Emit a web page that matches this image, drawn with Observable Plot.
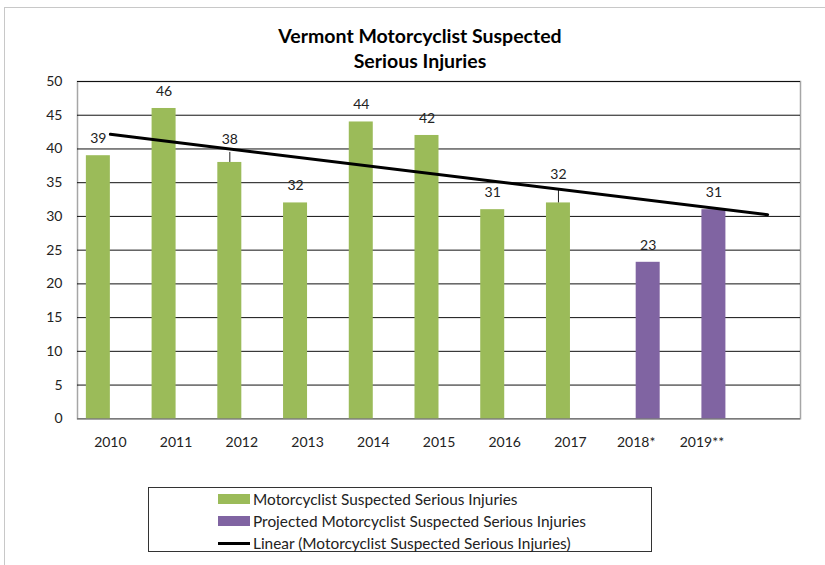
<!DOCTYPE html>
<html><head><meta charset="utf-8">
<script src="https://cdn.jsdelivr.net/npm/d3@7"></script>
<script src="https://cdn.jsdelivr.net/npm/@observablehq/plot@0.6"></script>
<style>
body{margin:0;background:#fff;}
#wrap{position:relative;width:825px;height:565px;overflow:hidden;font-family:Lato,sans-serif;}
#border{position:absolute;left:4px;top:7px;width:900px;height:700px;border-left:1.5px solid #c8c8c8;border-top:1.5px solid #c8c8c8;}
#title{position:absolute;left:170px;width:500px;top:23px;text-align:center;font-weight:bold;font-size:19.5px;line-height:25px;color:#000;}
#legend{position:absolute;left:148px;top:487px;width:502px;height:63px;border:1px solid #333;background:#fff;}
.row{position:absolute;left:69px;height:22px;display:flex;align-items:center;font-size:15.4px;color:#222;white-space:nowrap;}
.sw{width:32px;height:10px;margin-right:3px;}
#chart{position:absolute;left:0;top:0;}
</style></head><body>
<div id="wrap">
  <div id="border"></div>
  <div id="chart"></div>
  <div id="title">Vermont Motorcyclist Suspected<br>Serious Injuries</div>
  <div id="legend"></div>
</div>
<script>
// ---- data ----
const categories = ["2010","2011","2012","2013","2014","2015","2016","2017","2018*","2019**",""];
const actualYears = ["2010","2011","2012","2013","2014","2015","2016","2017"];
const actualValues = [39,46,38,32,44,42,31,32];
const projectedYears = ["2018*","2019**"];
const projectedValues = [23.2,31];
const yTicks = [0,5,10,15,20,25,30,35,40,45,50];
const raisedLabelYears = ["2012","2017"];
const seriesNames = ["Motorcyclist Suspected Serious Injuries","Projected Motorcyclist Suspected Serious Injuries","Linear (Motorcyclist Suspected Serious Injuries)"];

const GREEN = "#9BBB59", PURPLE = "#8064A2";

const actual = actualYears.map((year,i)=>({year, value: actualValues[i]}));
const projected = projectedYears.map((year,i)=>({year, value: projectedValues[i]}));

// linear trend (least squares on category index 1..n), extended over all categories
const xs = actualValues.map((_,i)=>i+1);
const mx = d3.mean(xs), my = d3.mean(actualValues);
const slope = d3.sum(xs.map((x,i)=>(x-mx)*(actualValues[i]-my))) / d3.sum(xs.map(x=>(x-mx)**2));
const intercept = my - slope*mx;
const trend = [categories[0], categories[categories.length-1]].map(c=>{
  const idx = categories.indexOf(c)+1;
  return {year:c, value: intercept + slope*idx};
});

const fmt = d3.format(".0f");
const normalLabels = actual.filter(d=>!raisedLabelYears.includes(d.year));
const lab2012 = actual.filter(d=>d.year===raisedLabelYears[0]);
const lab2017 = actual.filter(d=>d.year===raisedLabelYears[1]);

const bw = (825-77-25)/categories.length;
const off = bw/2 - 24;

const chart = Plot.plot({
  width: 825, height: 565,
  marginLeft: 77, marginRight: 25, marginTop: 81, marginBottom: 146.7,
  style: {fontFamily: "Lato, sans-serif", fontSize: "14px", color: "#222", background: "transparent"},
  x: {domain: categories, padding: 0, round: false, tickSize: 0, tickPadding: 18, label: null},
  y: {domain: [0,50], ticks: yTicks, tickSize: 0, tickPadding: 15, label: null},
  marks: [
    Plot.frame({stroke: "#a6a6a6", strokeWidth: 1.5}),
    Plot.ruleY(yTicks.filter(t=>t>0), {stroke: "#111", strokeWidth: 1}),
    Plot.ruleY([0], {stroke: "#7a7a7a", strokeWidth: 1.5}),
    Plot.barY(actual, {x: "year", y: "value", fill: GREEN, insetLeft: off, insetRight: bw/2}),
    Plot.barY(projected, {x: "year", y: "value", fill: PURPLE, insetLeft: bw/2, insetRight: off}),
    Plot.ruleX(lab2012, {x: "year", y1: "value", y2: "value", dx: -12, insetBottom: 10, stroke: "#222", strokeWidth: 1}),
    Plot.ruleX(lab2017, {x: "year", y1: "value", y2: "value", dx: -12, insetBottom: 13.3, stroke: "#222", strokeWidth: 1}),
    Plot.line(trend, {x: "year", y: "value", stroke: "#000", strokeWidth: 3}),
    Plot.text(normalLabels, {x: "year", y: "value", text: d=>fmt(d.value), dx: -12, dy: -17, fontSize: 14}),
    Plot.text(lab2012, {x: "year", y: "value", text: d=>fmt(d.value), dx: -12, dy: -22.7, fontSize: 14}),
    Plot.text(lab2017, {x: "year", y: "value", text: d=>fmt(d.value), dx: -12, dy: -28, fontSize: 14}),
    Plot.text(projected, {x: "year", y: "value", text: d=>fmt(d.value), dx: 12, dy: -17, fontSize: 14})
  ]
});
document.getElementById("chart").appendChild(chart);

// legend
const legend = document.getElementById("legend");
const swatches = [
  {bg: GREEN, h: 10},
  {bg: PURPLE, h: 10},
  {bg: "#000", h: 3}
];
seriesNames.forEach((name,i)=>{
  const row = document.createElement("div");
  row.className = "row";
  row.style.top = (i*22) + "px";
  const sw = document.createElement("div");
  sw.className = "sw";
  sw.style.background = swatches[i].bg;
  sw.style.height = swatches[i].h + "px";
  const t = document.createElement("span");
  t.textContent = name;
  row.appendChild(sw); row.appendChild(t);
  legend.appendChild(row);
});
</script>
</body></html>
